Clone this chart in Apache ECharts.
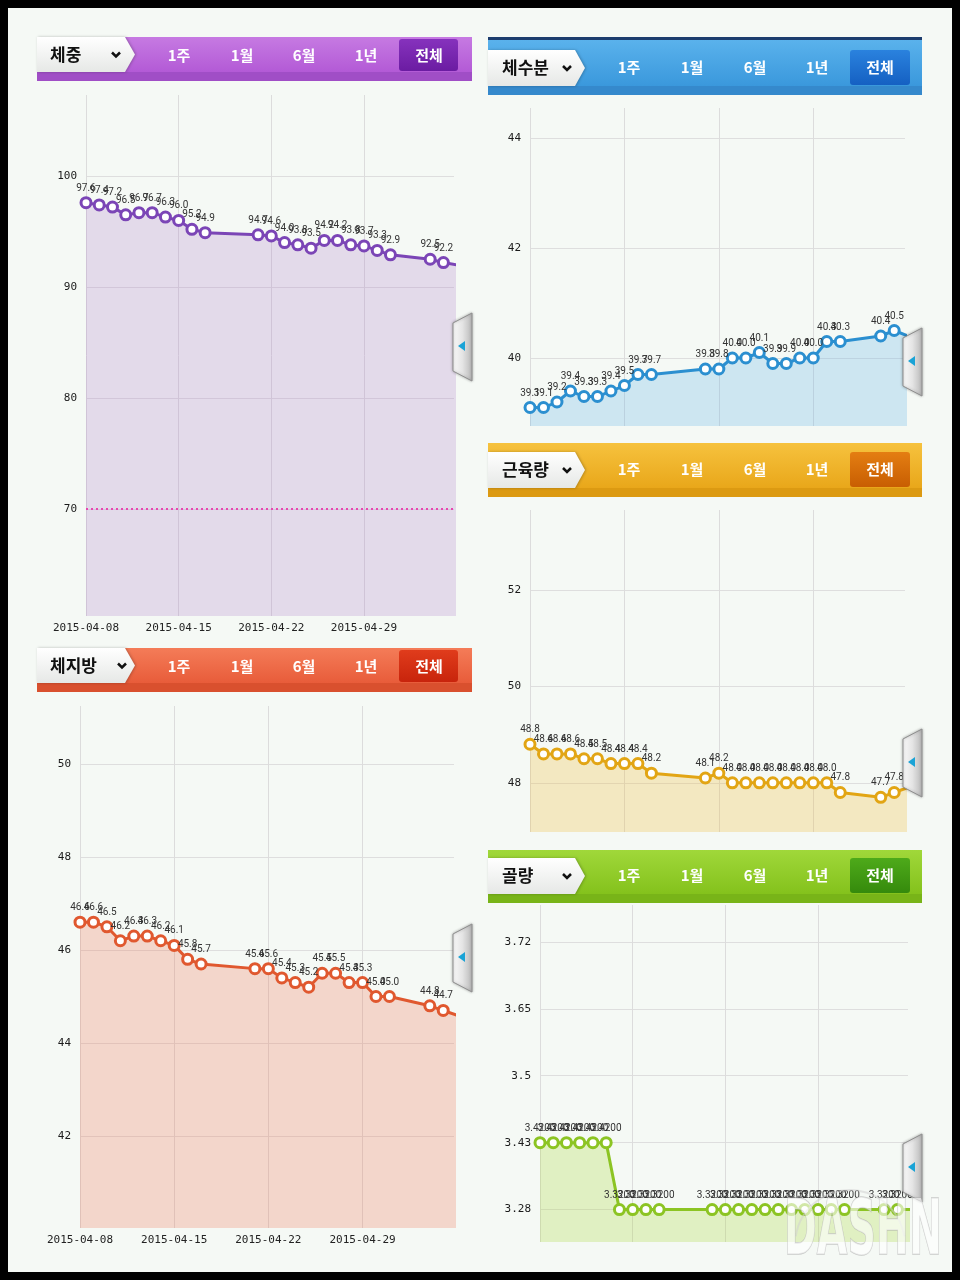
<!DOCTYPE html>
<html><head><meta charset="utf-8">
<script src="https://cdn.jsdelivr.net/npm/echarts@6/dist/echarts.min.js"></script>
<style>
html,body{margin:0;padding:0;background:#000;}
#wrap{position:relative;width:960px;height:1280px;background:#000;}
#bg{position:absolute;left:8px;top:8px;width:944px;height:1264px;background:#f5f9f5;}
#c{position:absolute;left:0;top:0;width:960px;height:1280px;}
</style>
</head><body>
<div id="wrap"><div id="bg"></div><div id="c"></div></div>
<script>
// ---------- DATA ----------
// last date is just past the visible window (its segment is cut at the plot edge)
const dates = ['2015-04-08','2015-04-09','2015-04-10','2015-04-11','2015-04-12','2015-04-13','2015-04-14',
  '2015-04-15','2015-04-16','2015-04-17','2015-04-21','2015-04-22','2015-04-23','2015-04-24','2015-04-25',
  '2015-04-26','2015-04-27','2015-04-28','2015-04-29','2015-04-30','2015-05-01','2015-05-04','2015-05-05','2015-05-06'];
const weight = [97.6,97.4,97.2,96.5,96.7,96.7,96.3,96.0,95.2,94.9,94.7,94.6,94.0,93.8,93.5,94.2,94.2,93.8,93.7,93.3,92.9,92.5,92.2,92.0];
const bodyFat = [46.6,46.6,46.5,46.2,46.3,46.3,46.2,46.1,45.8,45.7,45.6,45.6,45.4,45.3,45.2,45.5,45.5,45.3,45.3,45.0,45.0,44.8,44.7,44.6];
const bodyWater = [39.1,39.1,39.2,39.4,39.3,39.3,39.4,39.5,39.7,39.7,39.8,39.8,40.0,40.0,40.1,39.9,39.9,40.0,40.0,40.3,40.3,40.4,40.5,40.4];
const muscle = [48.8,48.6,48.6,48.6,48.5,48.5,48.4,48.4,48.4,48.2,48.1,48.2,48.0,48.0,48.0,48.0,48.0,48.0,48.0,48.0,47.8,47.7,47.8,47.9];
const bone = [3.42,3.42,3.42,3.42,3.42,3.42,3.32,3.32,3.32,3.32,3.32,3.32,3.32,3.32,3.32,3.32,3.32,3.32,3.32,3.32,3.32,3.32,3.32,3.32];
const boneTickValues = [3.32,3.42,3.52,3.62,3.72];
const boneTickLabels = ['3.28','3.43','3.5','3.65','3.72'];
const periodTabs = ['1주','1월','6월','1년','전체'];
const weightGoal = 70;
const titles = ['체중','체지방','체수분','근육량','골량'];

// ---------- SETUP ----------
const DAY = 86400000;
const t0 = Date.parse(dates[0]);
const xMax = t0 + 27.8 * DAY;
const xs = dates.map(d => Date.parse(d));
const LG = (x, y, x2, y2, stops) => new echarts.graphic.LinearGradient(x, y, x2, y2, stops.map((c, i) => ({offset: i / (stops.length - 1), color: c})));

const panels = [
  {values: weight, grid: {left: 86, top: 95, width: 368, height: 521}, yMin: 60.36, yMax: 107.3, split: 5,
   line: '#7b45b6', area: 'rgba(170,120,200,0.34)', showX: true, dec: 1, goal: weightGoal},
  {values: bodyFat, grid: {left: 80, top: 706, width: 374, height: 522}, yMin: 40.02, yMax: 51.25, split: 5,
   line: '#e0582f', area: 'rgba(238,125,95,0.40)', showX: true, dec: 1},
  {values: bodyWater, grid: {left: 530, top: 108, width: 375, height: 318}, yMin: 38.764, yMax: 44.545, split: 3,
   line: '#2b8fd0', area: 'rgba(115,185,232,0.44)', showX: false, dec: 1},
  {values: muscle, grid: {left: 530, top: 510, width: 375, height: 322}, yMin: 46.98, yMax: 53.66, split: 3,
   line: '#e2a514', area: 'rgba(238,192,75,0.44)', showX: false, dec: 1},
  {values: bone, grid: {left: 540, top: 905, width: 368, height: 337}, yMin: 3.2716, yMax: 3.775, custom: boneTickValues,
   line: '#8cc423', area: 'rgba(175,220,80,0.44)', showX: false, dec: 4}
];

const grids = [], xAxes = [], yAxes = [], series = [];
panels.forEach((p, i) => {
  grids.push(Object.assign({containLabel: false}, p.grid));
  xAxes.push({
    type: 'value', gridIndex: i, min: t0, max: xMax, interval: 7 * DAY,
    axisLine: {show: false}, axisTick: {show: false},
    axisLabel: {show: p.showX, showMaxLabel: false, margin: 7, fontSize: 11, color: '#222',
      fontFamily: 'DejaVu Sans Mono', formatter: v => new Date(v).toISOString().slice(0, 10)},
    splitLine: {show: true, showMaxLine: false, lineStyle: {color: '#dcdcdc', width: 1}}
  });
  const ya = {
    type: 'value', gridIndex: i, min: p.yMin, max: p.yMax,
    axisLine: {show: false},
    axisTick: {show: false},
    axisLabel: {margin: 9, fontSize: 11, color: '#1a1a1a', fontFamily: 'DejaVu Sans Mono'},
    splitLine: {show: true, lineStyle: {color: '#dedede', width: 1}}
  };
  if (p.custom) {
    ya.axisTick.customValues = p.custom;
    ya.axisLabel.customValues = p.custom;
    ya.axisLabel.formatter = v => {
      const k = boneTickValues.findIndex(t => Math.abs(t - v) < 1e-6);
      return k >= 0 ? boneTickLabels[k] : '';
    };
  } else {
    ya.splitNumber = p.split;
    ya.axisLabel.showMinLabel = false;
    ya.axisLabel.showMaxLabel = false;
    ya.splitLine.showMinLine = false;
    ya.splitLine.showMaxLine = false;
  }
  yAxes.push(ya);
  const s = {
    type: 'line', xAxisIndex: i, yAxisIndex: i, clip: true,
    data: xs.map((x, j) => [x, p.values[j]]),
    symbol: 'circle', symbolSize: 10, showSymbol: true,
    lineStyle: {color: p.line, width: 3},
    itemStyle: {color: '#ffffff', borderColor: p.line, borderWidth: 3},
    areaStyle: {color: p.area, origin: 'start'},
    label: {show: true, position: 'top', distance: 3, fontSize: 10, color: '#333', fontFamily: 'Roboto',
      formatter: q => q.value[1].toFixed(p.dec)},
    emphasis: {disabled: true},
    animation: false, z: 3
  };
  if (p.goal != null) {
    s.markLine = {silent: true, symbol: 'none', label: {show: false},
      lineStyle: {color: '#e845b0', type: [2, 3], width: 2}, data: [{yAxis: p.goal}]};
  }
  series.push(s);
});

// ---------- HEADERS ----------
const headerStyles = [
  {x: 37, y: 37, w: 435, bandH: 35, stripH: 9, tabTop: 37, tabH: 35, tabW: 88, titleX: 50, chevX: 116,
   labelXs: [179, 242, 304, 366, 429], btn: {x: 399, y: 39, w: 59, h: 32},
   band: ['#c67ae2', '#b35ad6'], strip: '#a04ec6', btnC: ['#8632bd', '#6b1ca2']},
  {x: 37, y: 648, w: 435, bandH: 35, stripH: 9, tabTop: 648, tabH: 35, tabW: 88, titleX: 50, chevX: 122,
   labelXs: [179, 242, 304, 366, 429], btn: {x: 399, y: 650, w: 59, h: 32},
   band: ['#f47c58', '#e85c3a'], strip: '#d9502e', btnC: ['#e03c1c', '#c8240c']},
  {x: 488, y: 40, w: 434, bandH: 46, stripH: 9, tabTop: 50, tabH: 36, tabW: 87, titleX: 502, chevX: 567,
   labelXs: [629, 692, 755, 817, 880], btn: {x: 850, y: 50, w: 60, h: 35}, topLine: '#1c3d6e',
   band: ['#5ab2ec', '#3a98dc'], strip: '#3589cc', btnC: ['#2a82de', '#1560c2']},
  {x: 488, y: 443, w: 434, bandH: 45, stripH: 9, tabTop: 452, tabH: 36, tabW: 87, titleX: 502, chevX: 567,
   labelXs: [629, 692, 755, 817, 880], btn: {x: 850, y: 452, w: 60, h: 35},
   band: ['#f6c23e', '#e9a71a'], strip: '#dc9a12', btnC: ['#e47e12', '#c85e02']},
  {x: 488, y: 850, w: 434, bandH: 44, stripH: 9, tabTop: 858, tabH: 36, tabW: 87, titleX: 502, chevX: 567,
   labelXs: [629, 692, 755, 817, 880], btn: {x: 850, y: 858, w: 60, h: 35},
   band: ['#a0d83a', '#84c21c'], strip: '#78b418', btnC: ['#4eaa1a', '#358a0c']}
];

const graphics = [];
headerStyles.forEach((h, i) => {
  if (h.topLine) graphics.push({type: 'rect', z: 10, shape: {x: h.x, y: h.y - 3, width: h.w, height: 3}, style: {fill: h.topLine}});
  graphics.push({type: 'rect', z: 10, shape: {x: h.x, y: h.y, width: h.w, height: h.bandH}, style: {fill: LG(0, 0, 0, 1, h.band)}});
  graphics.push({type: 'rect', z: 10, shape: {x: h.x, y: h.y + h.bandH, width: h.w, height: h.stripH}, style: {fill: h.strip}});
  const t1 = h.tabTop, t2 = h.tabTop + h.tabH, xe = h.x + h.tabW;
  graphics.push({type: 'polygon', z: 11, shape: {points: [[h.x, t1], [xe, t1], [xe + 10, (t1 + t2) / 2], [xe, t2], [h.x, t2]]},
    style: {fill: LG(0, 0, 0, 1, ['#ffffff', '#e6e8e6']), shadowBlur: 3, shadowColor: 'rgba(0,0,0,0.25)', shadowOffsetX: 1}});
  const cy = (t1 + t2) / 2;
  graphics.push({type: 'text', z: 12, style: {text: titles[i], x: h.titleX, y: cy, verticalAlign: 'middle',
    font: 'bold 17px "Noto Sans CJK KR"', fill: '#111'}});
  graphics.push({type: 'polyline', z: 12, shape: {points: [[h.chevX - 4, cy - 2], [h.chevX, cy + 2], [h.chevX + 4, cy - 2]]},
    style: {stroke: '#111', lineWidth: 2.5, fill: null}});
  graphics.push({type: 'rect', z: 11, shape: {x: h.btn.x, y: h.btn.y, width: h.btn.w, height: h.btn.h, r: 3},
    style: {fill: LG(0, 0, 0, 1, h.btnC)}});
  periodTabs.forEach((t, k) => {
    graphics.push({type: 'text', z: 12, style: {text: t, x: h.labelXs[k], y: h.btn.y + h.btn.h / 2,
      align: 'center', verticalAlign: 'middle', font: 'bold 15px "Noto Sans CJK KR"', fill: '#ffffff'}});
  });
});

// side collapse tabs
const sideTabs = [[453, 313], [453, 924], [903, 328], [903, 729], [903, 1134]];
sideTabs.forEach(([tx, ty]) => {
  graphics.push({type: 'polygon', z: 13, shape: {points: [[tx, ty + 10], [tx + 19, ty], [tx + 19, ty + 68], [tx, ty + 58]]},
    style: {fill: LG(0, 0, 1, 0, ['#fbfbfb', '#e4e4e4', '#b8b8b8']), stroke: '#8e8e8e', lineWidth: 1,
      shadowBlur: 3, shadowColor: 'rgba(0,0,0,0.3)'}});
  const cx = tx + 9, cy = ty + 33;
  graphics.push({type: 'polygon', z: 14, shape: {points: [[cx - 4, cy], [cx + 3, cy - 5], [cx + 3, cy + 5]]},
    style: {fill: '#1aa3d6'}});
});

// watermark
graphics.push({type: 'arc', z: 15, shape: {cx: 850, cy: 1245, r: 55, startAngle: Math.PI * 1.05, endAngle: Math.PI * 1.95},
  style: {fill: null, stroke: 'rgba(210,210,210,0.55)', lineWidth: 2}});
graphics.push({type: 'text', z: 16, x: 784, y: 1196, scaleX: 0.52,
  style: {text: 'DASHN', x: 0, y: 0, font: 'bold 76px "DejaVu Sans"', fill: 'rgba(255,255,255,0.6)',
    stroke: 'rgba(170,170,170,0.6)', lineWidth: 1.5, verticalAlign: 'top'}});

const chart = echarts.init(document.getElementById('c'), null, {renderer: 'canvas'});
chart.setOption({
  backgroundColor: 'transparent',
  animation: false,
  grid: grids, xAxis: xAxes, yAxis: yAxes, series: series,
  graphic: {elements: graphics}
});
</script>
</body></html>
